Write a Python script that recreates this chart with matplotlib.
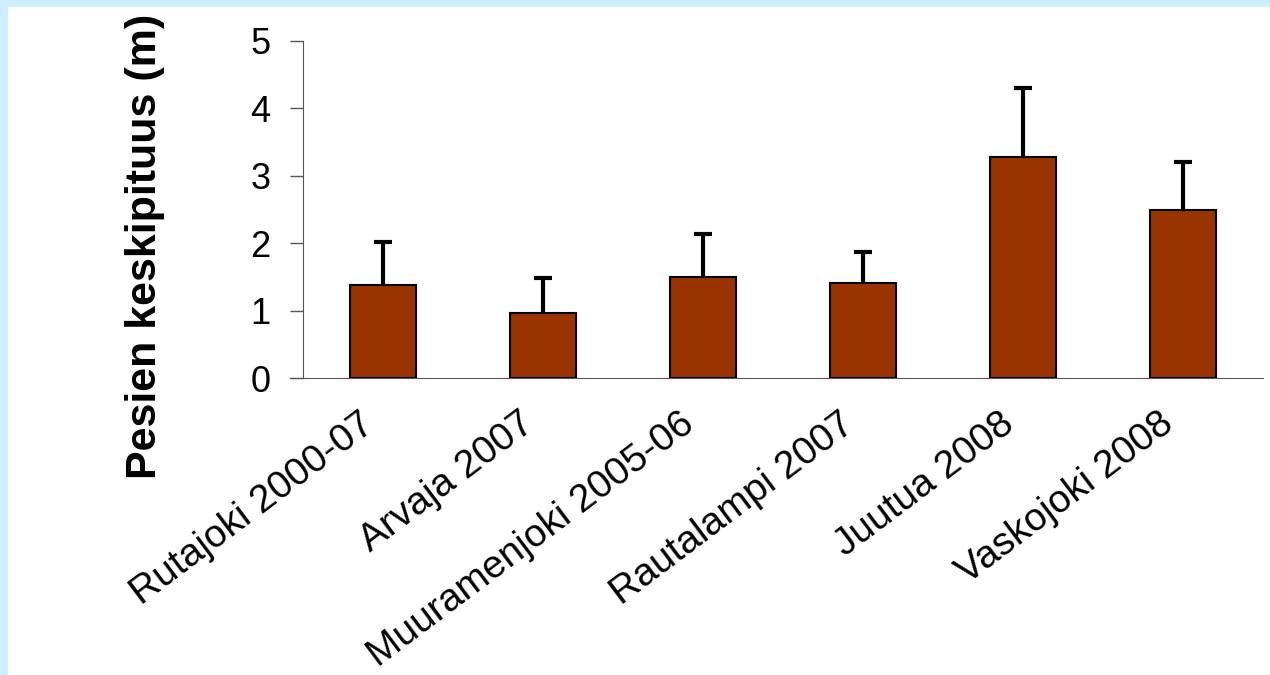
import numpy as np
import matplotlib.pyplot as plt
import matplotlib.transforms as mtransforms
from matplotlib.patches import Rectangle

plt.rcParams['font.family'] = ['Liberation Sans', 'DejaVu Sans']

sites = ['Rutajoki 2000-07', 'Arvaja 2007', 'Muuramenjoki 2005-06',
         'Rautalampi 2007', 'Juutua 2008', 'Vaskojoki 2008']
mean_len = [1.38, 0.96, 1.50, 1.41, 3.28, 2.49]
err_up = [0.64, 0.52, 0.64, 0.46, 1.02, 0.71]


def main():
    fig = plt.figure(figsize=(12.7, 6.75), dpi=100)
    fig.patch.set_facecolor('#cceeff')
    # white card inside the light blue frame
    fig.patches.append(Rectangle((8 / 1270, 0), 1, 1 - 7 / 675,
                                 transform=fig.transFigure,
                                 facecolor='white', edgecolor='none', zorder=-10))

    ax = fig.add_axes([303 / 1270, 1 - 378 / 675, 960 / 1270, 337 / 675])
    ax.set_facecolor('none')
    x = np.arange(len(sites))
    ax.bar(x, mean_len, width=0.41, color='#993300', edgecolor='black',
           linewidth=1.5, zorder=2)
    # upper error only: stem + cap on top, nothing at the bar top
    ax.errorbar(x, mean_len, yerr=[np.zeros(len(sites)), err_up], fmt='none',
                ecolor='black', elinewidth=3, capsize=0, zorder=3)
    tops = np.array(mean_len) + np.array(err_up)
    ax.plot(x, tops, linestyle='none', marker='_', markersize=13,
            markeredgewidth=3, color='black', zorder=3)

    ax.set_xlim(-0.5, len(sites) - 0.5)
    ax.set_ylim(0, 5)
    ax.set_yticks([0, 1, 2, 3, 4, 5])
    ax.tick_params(axis='y', labelsize=26, length=9.5, width=1,
                   color='#555555', pad=14)
    ax.tick_params(axis='x', length=0, pad=20)
    ax.set_xticks(x)
    ax.set_xticklabels(sites, rotation=37, ha='right', rotation_mode='anchor',
                       fontsize=28)
    shift = mtransforms.ScaledTranslation(-24 / 100, 0, fig.dpi_scale_trans)
    for lab in ax.get_xticklabels():
        lab.set_transform(lab.get_transform() + shift)
    for s in ['top', 'right']:
        ax.spines[s].set_visible(False)
    ax.spines['left'].set_color('#555555')
    ax.spines['bottom'].set_color('#555555')
    ax.spines['bottom'].set_bounds(-0.5 - 13 / 160, len(sites) - 0.5)

    ax.set_ylabel('Pesien keskipituus (m)', fontsize=31, fontweight='bold')
    ax.yaxis.set_label_coords(-0.144, 0.392)

    plt.savefig('out.png', dpi=100, facecolor=fig.get_facecolor())


main()
